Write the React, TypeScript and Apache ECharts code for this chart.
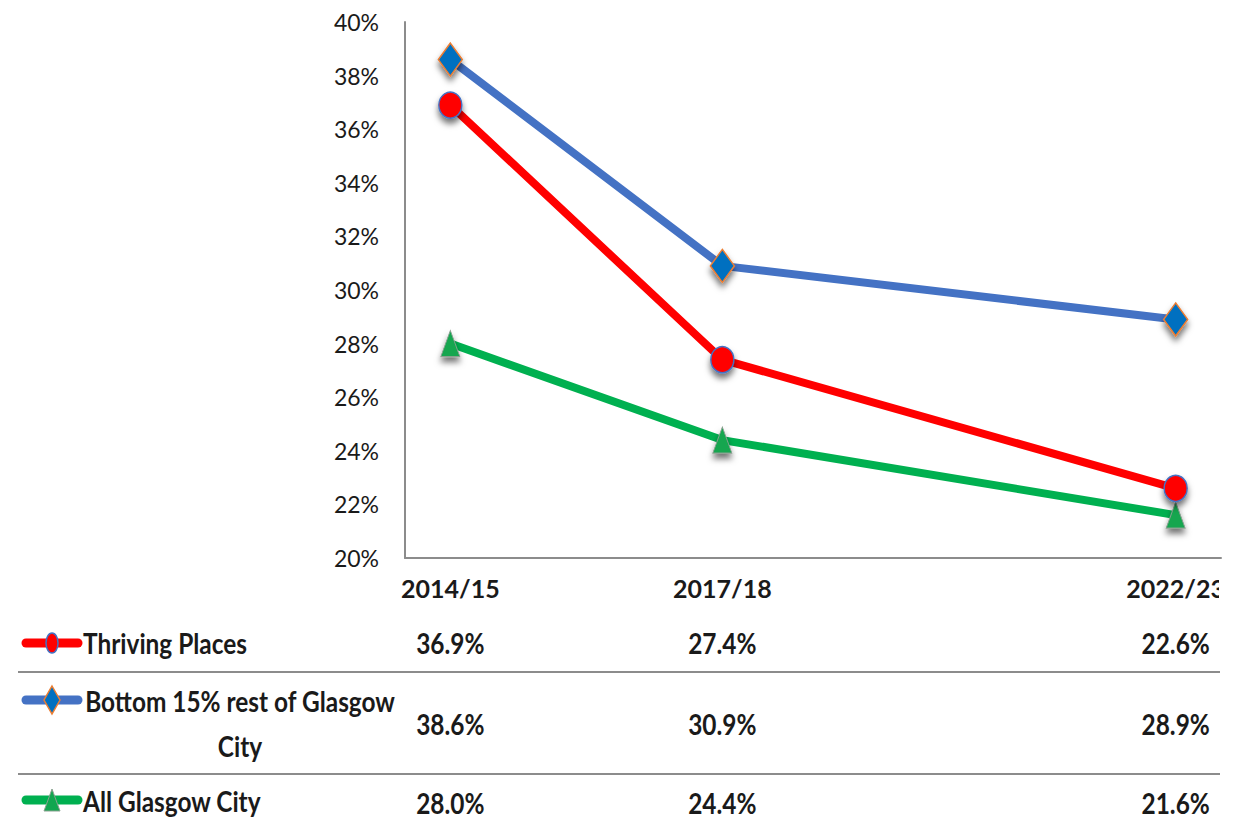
import React, { useEffect, useRef } from "react";
import * as echarts from "echarts";

const years = [2014, 2017, 2022];
const yearLabels = ["2014/15", "2017/18", "2022/23"];
const seriesNames = ["Thriving Places", "Bottom 15% rest of Glasgow City", "All Glasgow City"];
const thriving = [36.9, 27.4, 22.6];
const bottom15 = [38.6, 30.9, 28.9];
const allGlasgow = [28.0, 24.4, 21.6];

const FONT = "Lato, 'Open Sans', sans-serif";
const TEXT = "#1a1a1a";
const AXIS = "#8c8c8c";

const RED = "#ff0000";
const BLUE = "#4472c4";
const GREEN = "#00b050";

function measure(text: string, font: string): number {
  const c = document.createElement("canvas");
  const ctx = c.getContext("2d");
  if (!ctx) return text.length * 12;
  ctx.font = font;
  return ctx.measureText(text).width;
}

export default function App() {
  const ref = useRef<HTMLDivElement>(null);
  useEffect(() => {
    if (!ref.current) return;
    const chart = echarts.init(ref.current, null, { renderer: "svg" });
    const shadow = { shadowBlur: 6, shadowColor: "rgba(0,0,0,0.55)", shadowOffsetY: 5 };
    const toData = (vals: number[]) => years.map((y, i) => [y, vals[i]]);
    chart.setOption({
      animation: false,
      backgroundColor: "#ffffff",
      grid: { left: 405, right: 22, top: 22, bottom: 271, containLabel: false },
      xAxis: {
        type: "value",
        min: 2013.5,
        max: 2022.5,
        splitLine: { show: false },
        axisTick: { show: false },
        axisLine: { show: true, lineStyle: { color: AXIS, width: 2 } },
        axisLabel: {
          customValues: years,
          formatter: (v: number) => yearLabels[years.indexOf(Math.round(v))] ?? "",
          fontFamily: FONT,
          fontWeight: "bold",
          fontSize: 25,
          color: TEXT,
          margin: 17,
        },
      },
      yAxis: {
        type: "value",
        min: 20,
        max: 40,
        interval: 2,
        splitLine: { show: false },
        axisTick: { show: false },
        axisLine: { show: true, lineStyle: { color: AXIS, width: 2 } },
        axisLabel: {
          formatter: "{value}%",
          fontFamily: FONT,
          fontSize: 23,
          color: TEXT,
          margin: 26,
        },
      },
      series: [
        {
          name: seriesNames[2],
          type: "line",
          data: toData(allGlasgow),
          lineStyle: { color: GREEN, width: 8 },
          symbol: "triangle",
          symbolSize: [19, 26],
          itemStyle: { color: "#12a650", borderColor: "#8aa08f", borderWidth: 1, ...shadow },
          z: 2,
        },
        {
          name: seriesNames[1],
          type: "line",
          data: toData(bottom15),
          lineStyle: { color: BLUE, width: 8 },
          symbol: "diamond",
          symbolSize: [24, 33],
          itemStyle: { color: "#0070c0", borderColor: "#ed7d31", borderWidth: 1.5, ...shadow },
          z: 3,
        },
        {
          name: seriesNames[0],
          type: "line",
          data: toData(thriving),
          lineStyle: { color: RED, width: 8 },
          symbol: "circle",
          symbolSize: [23, 26],
          itemStyle: { color: RED, borderColor: "#4472c4", borderWidth: 1.5, ...shadow },
          z: 4,
        },
      ],
    });

    const FS = 29;
    const measured = measure(seriesNames[0], `bold ${FS}px Lato`);
    const sx = Math.min(1, 164 / measured);

    const xs = years.map((y) => chart.convertToPixel({ xAxisIndex: 0 }, y) as number);
    const rowY = [643, 724, 803];
    const values = [thriving, bottom15, allGlasgow];
    const txt = (text: string, x: number, y: number, align: string) => ({
      type: "text",
      z: 100,
      x,
      y,
      scaleX: sx,
      style: {
        text,
        x: 0,
        y: 0,
        align,
        verticalAlign: "middle",
        fill: TEXT,
        fontFamily: FONT,
        fontWeight: "bold",
        fontSize: FS,
      },
    });
    const keyLine = (y: number, color: string) => ({
      type: "line",
      z: 100,
      shape: { x1: 26, y1: y, x2: 78, y2: y },
      style: { stroke: color, lineWidth: 9, lineCap: "round" },
    });
    const graphics: any[] = [
      { type: "line", z: 100, shape: { x1: 18, y1: 672, x2: 1220, y2: 672 }, style: { stroke: AXIS, lineWidth: 2 } },
      { type: "line", z: 100, shape: { x1: 18, y1: 774, x2: 1220, y2: 774 }, style: { stroke: AXIS, lineWidth: 2 } },
      keyLine(643, RED),
      { type: "ellipse", z: 101, shape: { cx: 52, cy: 643, rx: 6, ry: 10 }, style: { fill: RED, stroke: "#4472c4", lineWidth: 1.5 } },
      keyLine(700, BLUE),
      {
        type: "polygon",
        z: 101,
        shape: { points: [[52, 686], [60, 700], [52, 714], [44, 700]] },
        style: { fill: "#0070c0", stroke: "#ed7d31", lineWidth: 1.5 },
      },
      keyLine(800, GREEN),
      {
        type: "polygon",
        z: 101,
        shape: { points: [[52, 789], [60, 811], [44, 811]] },
        style: { fill: "#12a650", stroke: "#8aa08f", lineWidth: 1 },
      },
      txt(seriesNames[0], 83, 643, "left"),
      txt("Bottom 15% rest of Glasgow", 240, 701, "center"),
      txt("City", 240, 746, "center"),
      txt(seriesNames[2], 83, 801, "left"),
      // clip of the cut-off right edge of the last x label
      { type: "rect", z: 200, shape: { x: 1219, y: 566, width: 30, height: 50 }, style: { fill: "#ffffff" } },
    ];
    values.forEach((vals, r) => {
      vals.forEach((v, c) => {
        graphics.push(txt(v.toFixed(1) + "%", xs[c], rowY[r], "center"));
      });
    });
    chart.setOption({ graphic: graphics });

    return () => chart.dispose();
  }, []);
  return (
    <div
      ref={ref}
      style={{ position: "absolute", left: 0, top: 0, width: 1243, height: 829, background: "#fff" }}
    />
  );
}
